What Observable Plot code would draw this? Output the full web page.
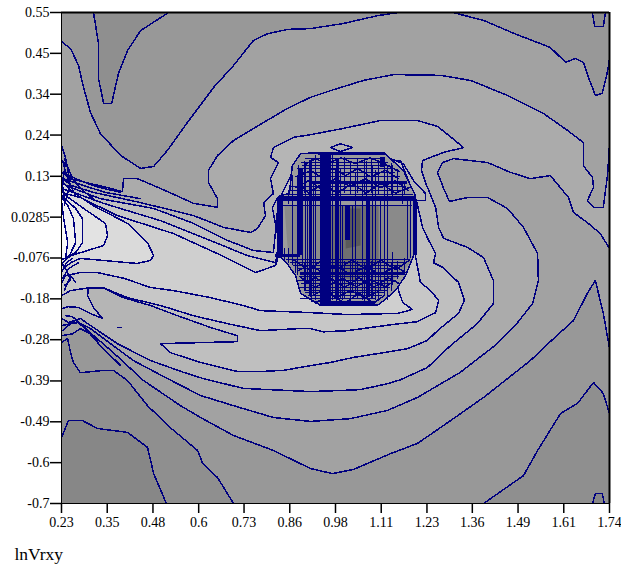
<!DOCTYPE html>
<html>
<head>
<meta charset="utf-8">
<style>html,body{margin:0;padding:0;background:#fff}svg{display:block}</style>
<script src="https://cdn.jsdelivr.net/npm/d3@7"></script>
<script src="https://cdn.jsdelivr.net/npm/@observablehq/plot@0.6"></script>
</head>
<body>
<script>
const axisTitle = "lnVrxy";
const xTicks = [0.23,0.356,0.482,0.608,0.733,0.859,0.985,1.111,1.237,1.362,1.488,1.614,1.74];
const xTickLabels = ["0.23","0.35","0.48","0.6","0.73","0.86","0.98","1.11","1.23","1.36","1.49","1.61","1.74"];
const yTicks = [0.55,0.446,0.342,0.238,0.133,0.029,-0.075,-0.179,-0.283,-0.388,-0.492,-0.596,-0.7];
const yTickLabels = ["0.55","0.45","0.34","0.24","0.13","0.0285","-0.076","-0.18","-0.28","-0.39","-0.49","-0.6","-0.7"];

const topWedge = [[.318,.55],[.324,.517],[.332,.471],[.332,.382],[.346,.318],[.368,.318],[.387,.395],[.412,.453],[.448,.504],[.525,.55]];
const topRightWedge = [[1.693,.55],[1.699,.514],[1.723,.514],[1.729,.55]];
const bottomRightWedge = [[1.693,-.7],[1.701,-.675],[1.72,-.675],[1.726,-.7]];
const level2Left = [[.23,.476],[.255,.458],[.277,.415],[.288,.369],[.31,.295],[.337,.242],[.393,.186],[.448,.153],[.484,.158],[.522,.199],[.577,.27],[.649,.359],[.704,.415],[.759,.479],[.798,.496],[.853,.507],[.916,.509],[1.007,.522],[1.101,.542],[1.159,.55]];
const level2Right = [[1.308,.55],[1.393,.53],[1.476,.497],[1.577,.461],[1.619,.423],[1.646,.433],[1.668,.423],[1.682,.385],[1.701,.339],[1.72,.344],[1.735,.402],[1.74,.433]];
const level2Lower = [[1.74,-.305],[1.723,-.216],[1.701,-.132],[1.679,-.165],[1.641,-.234],[1.586,-.28],[1.522,-.336],[1.459,-.382],[1.393,-.43],[1.302,-.489],[1.211,-.547],[1.137,-.573],[1.035,-.613],[.977,-.624],[.916,-.611],[.814,-.565],[.704,-.527],[.613,-.481],[.558,-.451],[.456,-.387],[.373,-.316],[.318,-.272],[.282,-.255],[.26,-.268],[.23,-.273]];
const level3Upper = [[.23,.143],[.255,.127],[.365,.102],[.398,.094],[.401,.127],[.439,.127],[.503,.102],[.594,.064],[.66,.054],[.66,.076],[.635,.117],[.635,.148],[.66,.186],[.704,.224],[.787,.27],[.853,.306],[.916,.334],[.971,.351],[1.062,.377],[1.145,.392],[1.274,.39],[1.357,.377],[1.459,.339],[1.558,.293],[1.624,.25],[1.668,.219],[1.668,.16],[1.693,.13],[1.696,.105],[1.679,.071],[1.696,.054],[1.723,.054],[1.735,.14],[1.74,.216]];
const level3Lower = [[1.74,-.051],[1.715,-.013],[1.679,.015],[1.641,.041],[1.627,.079],[1.577,.135],[1.522,.127],[1.467,.143],[1.404,.168],[1.31,.178],[1.28,.168],[1.266,.143],[1.283,.102],[1.299,.069],[1.349,.079],[1.404,.079],[1.459,.051],[1.503,.003],[1.542,-.064],[1.544,-.132],[1.528,-.191],[1.487,-.239],[1.431,-.293],[1.329,-.366],[1.211,-.43],[1.128,-.463],[1.026,-.484],[.916,-.491],[.814,-.481],[.704,-.451],[.613,-.425],[.522,-.382],[.428,-.336],[.365,-.293],[.31,-.255],[.277,-.239],[.23,-.247]];
const level4 = [[.23,.132],[.255,.11],[.318,.092],[.448,.066],[.594,.033],[.676,.003],[.751,-.01],[.77,0],[.792,.033],[.787,.066],[.814,.089],[.806,.127],[.828,.168],[.806,.181],[.814,.206],[.869,.232],[.916,.239],[1.007,.255],[1.109,.275],[1.211,.275],[1.266,.26],[1.308,.229],[1.338,.206],[1.283,.194],[1.225,.173],[1.222,.148],[1.233,.117],[1.261,.054],[1.269,.003],[1.283,-.025],[1.349,-.048],[1.393,-.074],[1.42,-.132],[1.42,-.191],[1.376,-.242],[1.302,-.298],[1.238,-.354],[1.164,-.385],[1.128,-.395],[1.054,-.41],[1.007,-.412],[.916,-.415],[.731,-.407],[.621,-.382],[.566,-.366],[.475,-.336],[.384,-.293],[.318,-.252],[.282,-.229],[.249,-.239],[.23,-.229]];
const level5 = [[.23,.115],[.263,.102],[.337,.076],[.484,.051],[.594,.013],[.687,-.03],[.759,-.056],[.814,-.061],[.828,.071],[.889,.186],[1.164,.173],[1.208,.071],[1.225,.003],[1.238,-.023],[1.261,-.064],[1.255,-.087],[1.283,-.1],[1.31,-.125],[1.324,-.137],[1.34,-.183],[1.324,-.216],[1.266,-.26],[1.238,-.285],[1.183,-.306],[1.117,-.316],[1.035,-.328],[.971,-.341],[.916,-.349],[.842,-.361],[.778,-.364],[.715,-.364],[.613,-.341],[.53,-.316],[.503,-.293],[.715,-.288],[.715,-.273],[.641,-.252],[.55,-.222],[.475,-.196],[.401,-.176],[.346,-.151],[.304,-.151],[.302,-.171],[.318,-.201],[.343,-.229],[.304,-.214],[.277,-.201],[.249,-.199],[.23,-.204]];
const level6 = [[.23,.102],[.263,.092],[.346,.064],[.503,.02],[.66,-.038],[.743,-.069],[.82,-.087],[.847,.071],[.889,.16],[1.137,.16],[1.192,-.005],[1.219,-.137],[1.247,-.158],[1.269,-.183],[1.261,-.214],[1.211,-.237],[1.137,-.245],[1.018,-.26],[.952,-.263],[.916,-.255],[.88,-.255],[.778,-.26],[.687,-.242],[.594,-.222],[.503,-.196],[.412,-.176],[.346,-.151],[.304,-.151],[.255,-.158],[.23,-.171]];
const level7 = [[.23,.092],[.282,.079],[.384,.033],[.539,-.013],[.66,-.064],[.765,-.112],[.82,-.094],[.889,.122],[1.109,.122],[1.159,-.158],[1.17,-.188],[1.197,-.206],[1.156,-.216],[1.018,-.219],[.916,-.214],[.778,-.209],[.731,-.196],[.641,-.176],[.539,-.158],[.475,-.15],[.403,-.127],[.329,-.112],[.282,-.112],[.241,-.12],[.23,-.14]];
const level8 = [[.23,.12],[.255,.097],[.318,.058],[.412,.013],[.467,-.036],[.484,-.069],[.475,-.081],[.439,-.089],[.282,-.076],[.255,-.087],[.23,-.107]];
const level9 = [[.23,.1],[.241,.084],[.291,.051],[.351,.013],[.357,-.018],[.346,-.043],[.302,-.056],[.255,-.069],[.23,-.089]];
const level10 = [[.23,.085],[.269,.051],[.288,.025],[.288,-.036],[.269,-.061],[.23,-.08]];
const level11 = [[.23,.08],[.247,.059],[.263,.025],[.269,-.036],[.249,-.074],[.23,-.078]];
const level12 = [[.23,.07],[.236,.025],[.247,-.036],[.241,-.076],[.23,-.076]];
const bottomLevel1 = [[.23,-.532],[.249,-.489],[.288,-.489],[.329,-.509],[.412,-.519],[.467,-.557],[.484,-.624],[.519,-.7]];
const bottomLevel2Left = [[.23,-.29],[.247,-.28],[.255,-.316],[.263,-.341],[.282,-.367],[.346,-.361],[.373,-.361],[.412,-.387],[.467,-.451],[.53,-.507],[.605,-.565],[.619,-.598],[.66,-.634],[.704,-.7]];
const bottomLevel2Right = [[1.393,-.7],[1.503,-.629],[1.542,-.565],[1.605,-.471],[1.652,-.445],[1.696,-.392],[1.723,-.42],[1.74,-.471]];
const fanLines = [
  [[.23,.211],[.241,.181],[.249,.14]],
  [[.233,.173],[.244,.135],[.255,.11],[.269,.084]],
  [[.238,.178],[.26,.127],[.288,.097],[.324,.071]],
  [[.233,.143],[.269,.127],[.324,.107],[.393,.092]],
  [[.233,.127],[.282,.112],[.351,.092],[.448,.076]],
  [[.255,.132],[.249,.097],[.238,.059]],
  [[.241,.173],[.233,.11],[.238,.071]],
  [[.23,-.112],[.244,-.087],[.26,-.076]],
  [[.23,-.087],[.244,-.107],[.255,-.132],[.238,-.145]],
  [[.233,-.127],[.249,-.102],[.277,-.087]],
  [[.238,-.158],[.255,-.12],[.269,-.137]],
  [[.241,-.222],[.26,-.224],[.288,-.247],[.332,-.285]],
  [[.233,-.26],[.249,-.247],[.269,-.234],[.296,-.255],[.337,-.298],[.393,-.349]],
  [[.384,-.252],[.395,-.252]]
];
const blobOutline = [[.828,.059],[.831,.084],[.858,.089],[.866,.16],[.889,.191],[.95,.193],[1.12,.193],[1.142,.173],[1.172,.148],[1.205,.084],[1.208,.059],[1.2,-.069],[1.178,-.12],[1.15,-.158],[1.104,-.194],[.944,-.196],[.889,-.165],[.875,-.12],[.85,-.087],[.828,-.069]];
const blobCore1 = [[.844,.059],[1.192,.059],[1.192,-.087],[1.109,-.163],[.916,-.163],[.855,-.069]];
const blobCore2 = [[.957,.059],[1.104,.059],[1.104,-.087],[1.04,-.132],[.971,-.12]];
const blobCore3 = [[1.013,.051],[1.054,.051],[1.054,-.043],[1.013,-.051]];
const blobSideLines = [
  [[1.137,.178],[1.172,.165],[1.2,.122],[1.233,.089],[1.233,.071],[1.211,.071]],
  [[.971,.206],[.999,.216],[1.032,.206],[.999,.196],[.971,.206]],
  [[.825,.079],[.811,.053],[.825,-.013],[.828,-.074]],
  [[.889,.135],[.916,.148],[.944,.132],[.977,.153],[1.013,.135],[1.046,.153],[1.081,.132],[1.123,.148],[1.159,.127]],
  [[.875,.104],[.911,.122],[.944,.102],[.985,.127],[1.026,.107],[1.068,.127],[1.109,.104],[1.15,.122],[1.186,.097]],
  [[.883,-.107],[.916,-.092],[.949,-.112],[.985,-.094],[1.026,-.117],[1.068,-.097],[1.109,-.117],[1.15,-.097],[1.178,-.112]],
  [[.897,-.14],[.93,-.125],[.966,-.145],[1.004,-.127],[1.043,-.148],[1.081,-.13],[1.123,-.148],[1.15,-.132]],
  [[.916,-.173],[.949,-.158],[.985,-.176],[1.026,-.158],[1.068,-.176],[1.104,-.16]],
  [[.896,.16],[.93,.178],[.96,.165],[1.0,.18],[1.04,.165],[1.08,.18],[1.12,.165],[1.16,.145]],
  [[.88,.118],[.91,.09],[.95,.115],[.99,.09],[1.03,.115],[1.07,.09],[1.11,.115],[1.15,.09],[1.19,.105]],
  [[.87,-.08],[.91,-.105],[.95,-.08],[.99,-.105],[1.03,-.08],[1.07,-.105],[1.11,-.08],[1.15,-.105],[1.19,-.08]],
  [[.89,-.125],[.93,-.15],[.97,-.125],[1.01,-.15],[1.05,-.125],[1.09,-.15],[1.13,-.125],[1.16,-.14]],
  [[.93,-.19],[.97,-.165],[1.01,-.19],[1.05,-.165],[1.09,-.19],[1.12,-.17]]
];
const blobVerticalsHeavy = [[.958,.193,-.196]];
const blobVerticalsBold = [[.889,.153,-.069],[1.115,.181,.155],[1.018,.059,-.03],[.833,.079,-.069]];
const blobVerticalsMedium = [[.828,.079,-.069],[.916,.173,-.17],[1.076,.071,-.17],[.99,.173,-.183],[1.205,.071,-.069]];
const blobVerticalsThin = [[.867,.135,-.094],[.88,.135,-.12],[.902,.16,-.158],[.93,.186,-.183],[.977,.186,-.183],[1.004,.059,-.183],[1.032,.059,-.158],[1.059,.122,-.183],[1.095,.148,-.183],[1.109,.071,-.158],[1.128,.16,-.183],[1.183,.071,-.081],[1.192,.071,-.076],[1.2,.071,-.069],
  [.895,.07,-.1],[.908,.07,-.14],[.924,.12,-.17],[.985,.15,-.18],[.999,.15,-.18],[1.04,.14,-.17],[1.07,.17,-.18],[1.087,.16,-.18],[1.12,.13,-.17]];
const blobMeshVerticalsTop = [[.883,.16,.085],[.9,.17,.09],[.919,.178,.085],[.988,.178,.085],[1.01,.18,.09],[1.026,.165,.085],[1.046,.178,.09],[1.065,.17,.085],[1.084,.178,.09],[1.104,.165,.085],[1.12,.17,.09],[1.139,.165,.085],[1.156,.15,.09],[1.175,.12,.085],[.855,.097,.06],[.839,.079,.06],[1.142,.16,.08],[1.17,.12,.06]];
const blobMeshVerticalsBottom = [[.845,-.05,-.085],[.855,-.05,-.09],[.875,-.08,-.115],[.9,-.09,-.16],[.919,-.085,-.178],[.944,-.09,-.19],[.988,-.09,-.19],[1.01,-.085,-.18],[1.026,-.09,-.19],[1.046,-.085,-.178],[1.065,-.09,-.19],[1.084,-.085,-.178],[1.104,-.09,-.18],[1.12,-.085,-.17],[1.139,-.09,-.16],[1.156,-.085,-.13],[1.175,-.075,-.11],[1.142,-.06,-.145]];
const blobHorizontalsBold = [[.076,.828,1.205]];
const blobHorizontalsMedium = [[.191,.938,1.123],[.117,.916,1.183],[-.069,.82,.889],[-.115,.889,1.178],[-.191,.944,1.095]];
const blobHorizontalsThin = [[.178,.902,1.109],[.16,.902,1.137],[.142,.889,1.15],[.097,.861,1.164],[.059,.833,1.197],[-.087,.861,1.178],[-.102,.88,1.164],[-.132,.883,1.15],[-.15,.889,1.137],[-.163,.902,1.123],[-.178,.889,1.095],
  [.168,.89,1.13],[.152,.88,1.15],[.132,.875,1.165],[.108,.865,1.18],[.087,.855,1.2],[-.078,.85,1.19],[-.095,.87,1.17],[-.122,.885,1.16],[-.14,.89,1.14],[-.157,.9,1.13],[-.17,.91,1.115],[-.185,.92,1.1]];

const navy = "#000080";
const crisp = {shapeRendering: "crispEdges"};
const poly = (pts, fill) => Plot.line(pts, {fill, stroke: "none", curve: "linear"});
const contour = pts => Plot.line(pts, {stroke: navy, strokeWidth: 1.5, fill: "none", strokeLinejoin: "miter", ...crisp});
const vert = (arr, w) => Plot.ruleX(arr, {x: d => d[0], y1: d => d[1], y2: d => d[2], stroke: navy, strokeWidth: w, ...crisp});
const horiz = (arr, w) => Plot.ruleY(arr, {y: d => d[0], x1: d => d[1], x2: d => d[2], stroke: navy, strokeWidth: w, ...crisp});

const chart = Plot.plot({
  width: 621, height: 567,
  marginLeft: 61, marginRight: 12, marginTop: 12, marginBottom: 64,
  style: {fontFamily: "'Liberation Serif', serif", fontSize: "14px", background: "#fff", color: "#000", overflow: "visible"},
  x: {domain: [0.23, 1.74], label: null, axis: null},
  y: {domain: [-0.7, 0.55], label: null, axis: null},
  marks: [
    Plot.frame({fill: "#989898", stroke: "none"}),
    poly(topWedge, "#8f8f8f"),
    poly(topRightWedge, "#8f8f8f"),
    poly([...bottomLevel2Left, [.23,-.7]], "#8f8f8f"),
    poly([...bottomLevel2Right, [1.74,-.7]], "#8f8f8f"),
    poly([...bottomLevel1, [.23,-.7]], "#878787"),
    poly(bottomRightWedge, "#878787"),
    poly([...level2Left, ...level2Right, ...level2Lower], "#a2a2a2"),
    poly([...level3Upper, ...level3Lower], "#ababab"),
    poly(level4, "#b5b5b5"),
    poly(level5, "#bfbfbf"),
    poly(level6, "#c7c7c7"),
    poly(level7, "#cfcfcf"),
    poly(level8, "#dadada"),
    poly(level9, "#e3e3e3"),
    poly(level10, "#ebebeb"),
    poly(level11, "#f3f3f3"),
    poly(level12, "#fbfbfb"),
    ...[topWedge, topRightWedge, bottomRightWedge, level2Left, level2Right, level2Lower,
        level3Upper, level3Lower, level4, level5, level6, level7, level8, level9, level10,
        level11, level12, bottomLevel1, bottomLevel2Left, bottomLevel2Right, ...fanLines].map(contour),
    poly(blobOutline, "#9c9c9c"),
    poly(blobCore1, "#8a8a8a"),
    poly(blobCore2, "#707070"),
    poly(blobCore3, "#5a5a5a"),
    Plot.line([...blobOutline, blobOutline[0]], {stroke: navy, strokeWidth: 1.5, ...crisp}),
    ...blobSideLines.map(contour),
    vert(blobVerticalsThin, 1),
    vert(blobMeshVerticalsTop, 1),
    vert(blobMeshVerticalsBottom, 1),
    vert(blobVerticalsMedium, 2.5),
    vert(blobVerticalsBold, 5),
    vert(blobVerticalsHeavy, 11),
    horiz(blobHorizontalsThin, 1),
    horiz(blobHorizontalsMedium, 3),
    horiz(blobHorizontalsBold, 5),
    Plot.ruleY([0.55], {stroke: "#000", strokeWidth: 2}),
    Plot.ruleX([1.74], {stroke: "#000", strokeWidth: 2}),
    Plot.ruleX([0.23], {stroke: "#000", strokeWidth: 1}),
    Plot.ruleY([-0.7], {stroke: "#000", strokeWidth: 1}),
    Plot.axisX({ticks: xTicks, tickFormat: (d, i) => xTickLabels[i], tickSize: 10, tickPadding: 4, strokeWidth: 1.5, stroke: "#000", fill: "#000", fontSize: 14, label: null}),
    Plot.axisY({ticks: yTicks, tickFormat: (d, i) => yTickLabels[i], tickSize: 11, tickPadding: 1, strokeWidth: 1.5, stroke: "#000", fill: "#000", fontSize: 14, label: null}),
    Plot.text([axisTitle], {frameAnchor: "bottom-left", textAnchor: "start", lineAnchor: "bottom", dx: -47, dy: 56, fontSize: 17.5, fill: "#000"})
  ]
});
document.body.appendChild(chart);
</script>
</body>
</html>
